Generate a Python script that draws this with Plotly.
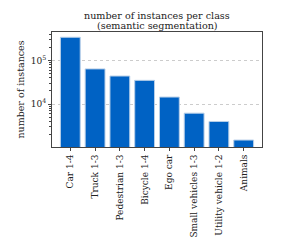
import plotly.graph_objects as go

categories = ["Car 1-4", "Truck 1-3", "Pedestrian 1-3", "Bicycle 1-4", "Ego car",
              "Small vehicles 1-3", "Utility vehicle 1-2", "Animals"]
values = [340000, 64000, 44000, 35000, 14500, 6200, 4000, 1500]
ytick_vals = [1e4, 1e5]
ytick_text = ["10<sup>4</sup>", "10<sup>5</sup>"]
minor_vals = [k * 10**e for e in (3, 4, 5) for k in range(2, 10)]
title_lines = ["number of instances per class", "(semantic segmentation)"]

font = "DejaVu Serif"
fig = go.Figure(go.Bar(
    x=categories, y=values,
    marker=dict(color="#0062c4", line=dict(color="#b8cfe8", width=1)),
))
fig.update_layout(
    width=283, height=242,
    margin=dict(l=42, r=29, t=24, b=102),
    paper_bgcolor="white", plot_bgcolor="white",
    font=dict(family=font, size=10, color="#222"),
    bargap=0.2,
    showlegend=False,
    annotations=[dict(text=t, x=0.5, xref="paper", xanchor="center",
                      y=1, yref="paper", yanchor="middle", yshift=s,
                      showarrow=False, borderpad=0,
                      font=dict(size=9.6, family=font, color="#222"))
                 for t, s in zip(title_lines, [17, 7])],
)
fig.update_xaxes(
    range=[-0.74, 7.74], tickangle=-90, ticks="outside", ticklen=3,
    showline=True, linecolor="#444", mirror=True, linewidth=1,
    tickfont=dict(size=9, family=font),
)
fig.update_yaxes(
    type="log", range=[3.017, 5.652],
    tickvals=ytick_vals, ticktext=ytick_text, ticks="outside", ticklen=3,
    showline=True, linecolor="#444", mirror=True, linewidth=1,
    showgrid=True, gridcolor="#cccccc", griddash="dot", gridwidth=1,
    minor=dict(tickvals=minor_vals, ticks="outside", ticklen=2, showgrid=False),
    title=dict(text="number of instances", font=dict(size=9.5, family=font), standoff=4),
    tickfont=dict(size=9, family=font),
)
fig.write_html("out.html")
